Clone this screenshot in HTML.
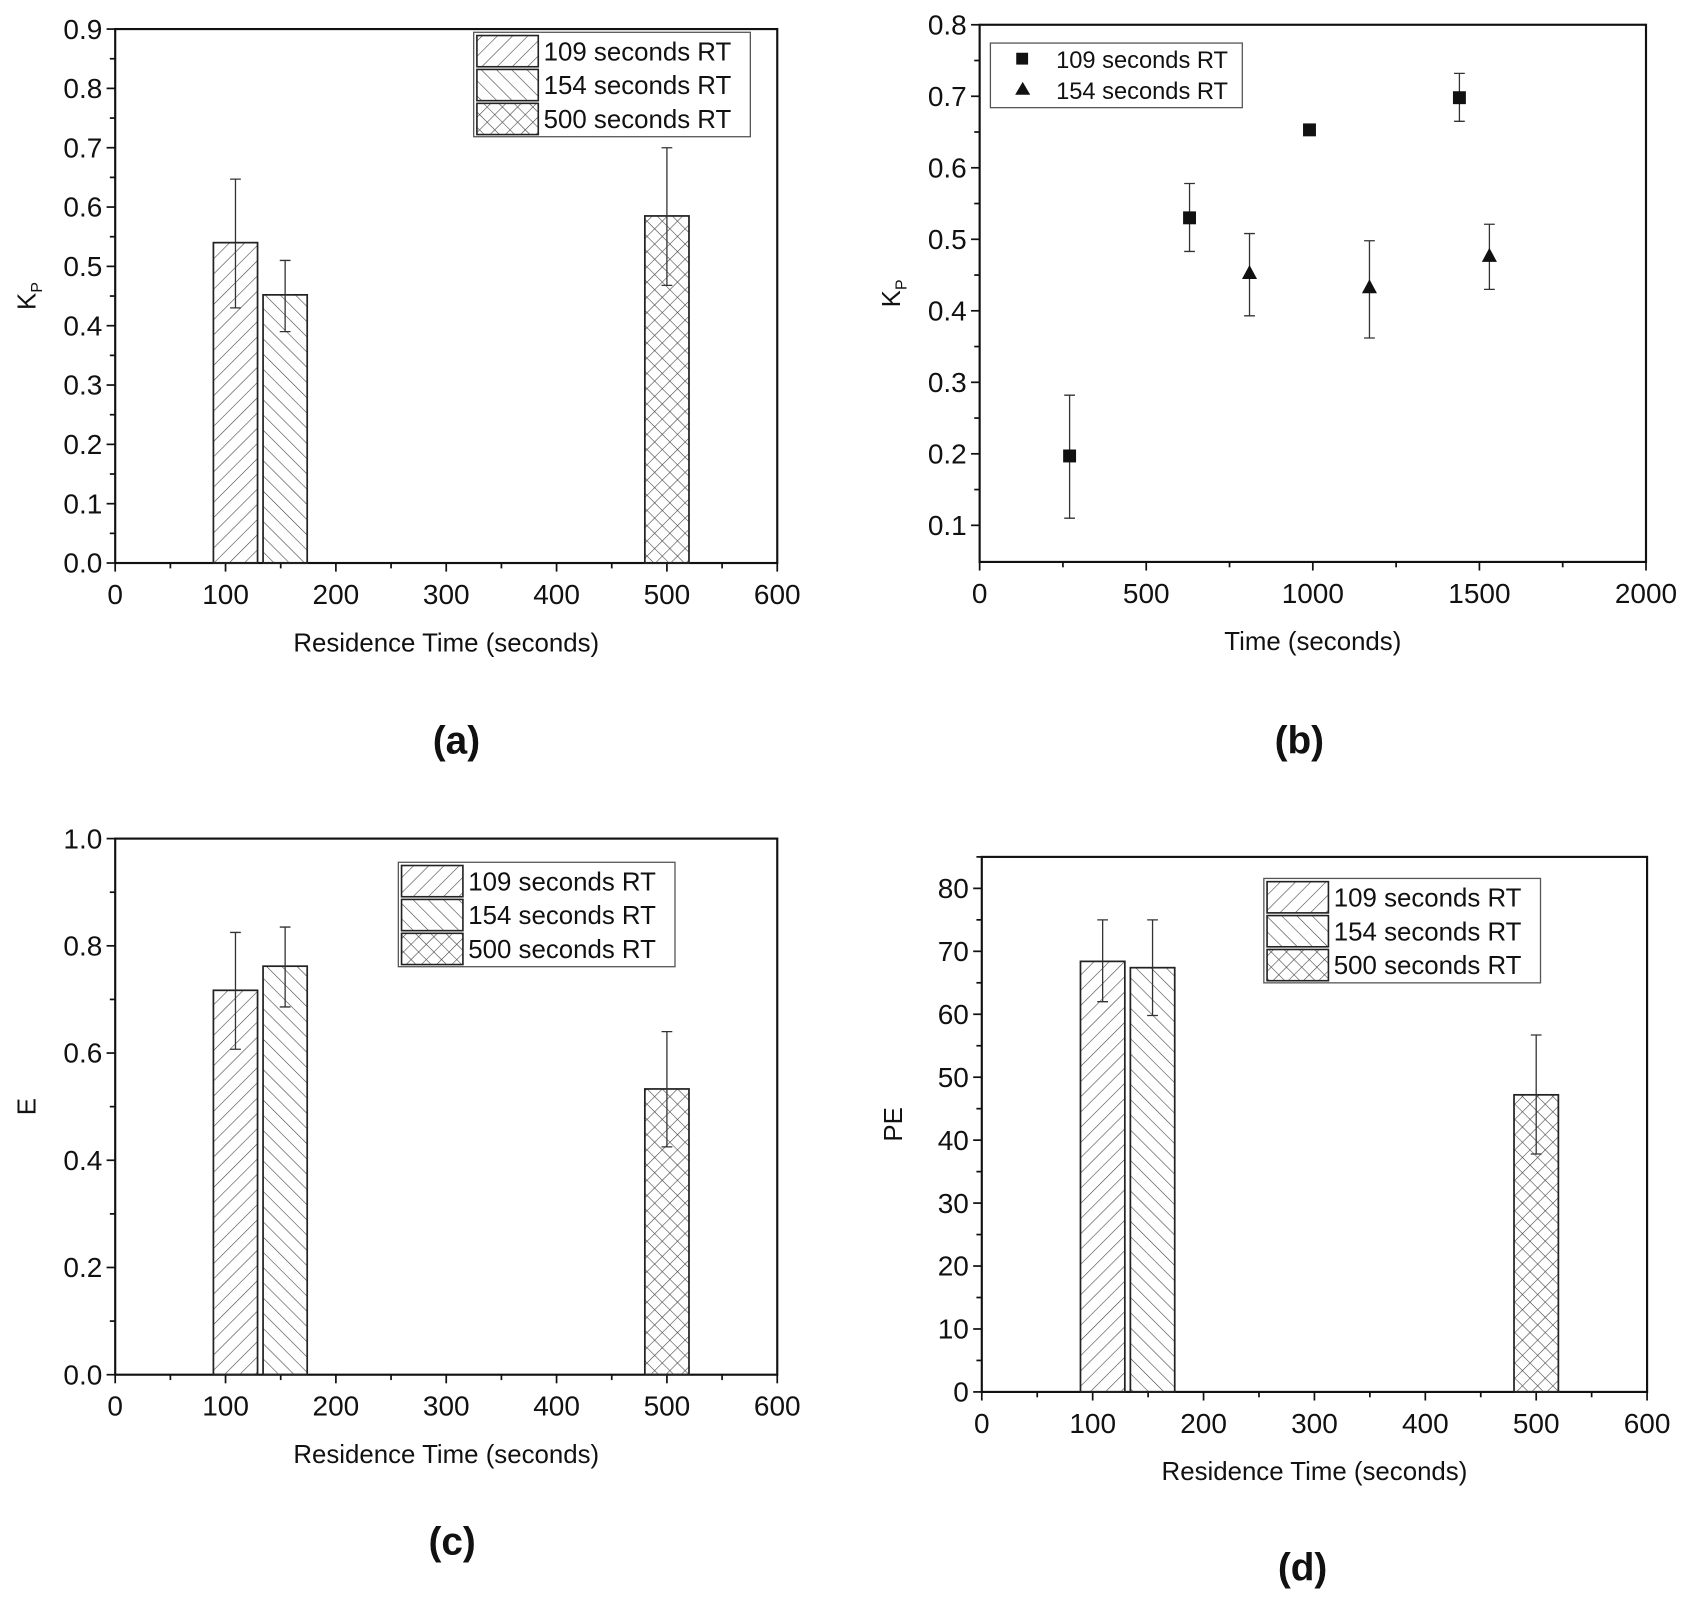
<!DOCTYPE html>
<html><head><meta charset="utf-8">
<style>
html,body{margin:0;padding:0;background:#fff;}
svg{display:block;}
text{font-family:"Liberation Sans",Arial,sans-serif;fill:#111;}
</style></head>
<body>
<svg id="fig" width="1688" height="1597" viewBox="0 0 1568 1483.5" xmlns="http://www.w3.org/2000/svg">
<defs>
<pattern id="hf" patternUnits="userSpaceOnUse" width="10" height="10" patternTransform="rotate(45)"><line x1="0" y1="0" x2="0" y2="10" stroke="#444" stroke-width="1.1"/></pattern>
<pattern id="hb" patternUnits="userSpaceOnUse" width="10" height="10" patternTransform="rotate(-45)"><line x1="0" y1="0" x2="0" y2="10" stroke="#444" stroke-width="1.1"/></pattern>
<pattern id="hx" patternUnits="userSpaceOnUse" width="10" height="10" patternTransform="rotate(45)"><line x1="0" y1="0" x2="0" y2="10" stroke="#444" stroke-width="1.1"/><line x1="0" y1="0" x2="10" y2="0" stroke="#444" stroke-width="1.1"/></pattern>
</defs>
</svg>
<script>
// Panel (a) Kp vs residence time
const barCats = [109, 154, 500];
const barLabels = ["109 seconds RT", "154 seconds RT", "500 seconds RT"];
const kpValues = [0.54, 0.452, 0.585];
const kpLow = [0.43, 0.39, 0.468];
const kpHigh = [0.647, 0.51, 0.70];
// Panel (c) E
const eValues = [0.717, 0.762, 0.533];
const eLow = [0.607, 0.686, 0.425];
const eHigh = [0.825, 0.835, 0.640];
// Panel (d) PE
const peValues = [68.4, 67.4, 47.2];
const peLow = [62, 59.8, 37.8];
const peHigh = [75, 75, 56.7];
// Panel (b) scatter
const s109X = [270, 630, 990, 1440];
const s109Y = [0.197, 0.53, 0.653, 0.698];
const s109Lo = [0.11, 0.483, null, 0.665];
const s109Hi = [0.282, 0.578, null, 0.732];
const s154X = [810, 1170, 1530];
const s154Y = [0.452, 0.432, 0.476];
const s154Lo = [0.393, 0.362, 0.43];
const s154Hi = [0.508, 0.498, 0.521];
const ticksA = ["0.0","0.1","0.2","0.3","0.4","0.5","0.6","0.7","0.8","0.9"];
const ticksB = ["0.1","0.2","0.3","0.4","0.5","0.6","0.7","0.8"];
const ticksC = ["0.0","0.2","0.4","0.6","0.8","1.0"];
const ticksD = ["0","10","20","30","40","50","60","70","80"];
const ticksRT = ["0","100","200","300","400","500","600"];
const ticksT = ["0","500","1000","1500","2000"];

const NS = "http://www.w3.org/2000/svg";
const svg = document.getElementById('fig');
function mk(tag, attrs, parent, txt){
  const e = document.createElementNS(NS, tag);
  for (const k in attrs) e.setAttribute(k, attrs[k]);
  if (txt !== undefined) e.textContent = txt;
  (parent || svg).appendChild(e);
  return e;
}
function axes(p){
  const g = mk('g', {});
  
  
  const sx = v => p.x0 + (v - p.xmin) / (p.xmax - p.xmin) * (p.x1 - p.x0);
  const sy = v => p.y1 - (v - p.ymin) / (p.ymax - p.ymin) * (p.y1 - p.y0);
  const box = mk('rect', {x:p.x0, y:p.y0, width:p.x1-p.x0, height:p.y1-p.y0, fill:'none', stroke:'#111', 'stroke-width':2}, g);
  
  
  for (let v = p.xmin; v <= p.xmax + 1e-9; v += p.xminor) {
    const major = Math.abs((v / p.xmajor) - Math.round(v / p.xmajor)) < 1e-6;
    mk('line', {x1:sx(v), x2:sx(v), y1:p.y1, y2:p.y1 + (major ? 8 : 5), stroke:'#111', 'stroke-width':1.6}, g);
  }
  p.xticks.forEach(t => {
    const lab = mk('text', {x:sx(+t), y:p.y1 + 38, 'font-size':26, 'text-anchor':'middle'}, g, t);
    
    
  });
  for (let v = p.yminTick; v <= p.ymax + 1e-9; v += p.yminor) {
    const major = Math.abs(((v - p.yminTick) / p.ymajor) - Math.round((v - p.yminTick) / p.ymajor)) < 1e-6;
    mk('line', {x1:p.x0, x2:p.x0 - (major ? 8 : 5), y1:sy(v), y2:sy(v), stroke:'#111', 'stroke-width':1.6}, g);
  }
  p.yticks.forEach(t => {
    const lab = mk('text', {x:p.x0 - 12, y:sy(+t) + 9, 'font-size':26, 'text-anchor':'end'}, g, t);
    
    
  });
  const xt = mk('text', {x:(p.x0 + p.x1) / 2, y:p.y1 + 82, 'font-size':24, 'text-anchor':'middle'}, g, p.xtitle);
  
  
  const yt = mk('text', {x:0, y:0, 'font-size':24, 'text-anchor':'middle', transform:`translate(${p.x0 - 74},${(p.y0 + p.y1) / 2}) rotate(-90)`}, g);
  
  
  if (p.ytitle === 'Kp') { yt.textContent = 'K'; mk('tspan', {'font-size':15, dy:6}, yt, 'P'); }
  else yt.textContent = p.ytitle;
  const cap = mk('text', {x:p.capx, y:p.capy, 'font-size':36, 'font-weight':'bold', 'text-anchor':'middle'}, g, p.caption);
  
  
  return {g, sx, sy};
}
const fills = ['url(#hf)', 'url(#hb)', 'url(#hx)'];
function barPanel(p, vals, lo, hi, leg){
  const {g, sx, sy} = axes(p);
  barCats.forEach((c, i) => {
    const x = sx(c) - (sx(20) - sx(0));
    const w = sx(40) - sx(0);
    const r = mk('rect', {x:x, y:sy(vals[i]), width:w, height:sy(p.ymin) - sy(vals[i]), fill:fills[i], stroke:'#222', 'stroke-width':1.6}, g);
    
    
    const ex = sx(c);
    const eb = mk('path', {d:`M${ex},${sy(lo[i])}V${sy(hi[i])}M${ex-5},${sy(lo[i])}H${ex+5}M${ex-5},${sy(hi[i])}H${ex+5}`, stroke:'#333', 'stroke-width':1.2, fill:'none'}, g);
    
    
  });
  const lg = mk('g', {}, g);
  
  
  mk('rect', {x:leg.x, y:leg.y, width:257, height:97, fill:'#fff', stroke:'#555', 'stroke-width':1.2}, lg);
  barLabels.forEach((l, i) => {
    const e = mk('g', {}, lg);
    
    
    mk('rect', {x:leg.x + 3, y:leg.y + 3 + i * 31.5, width:57, height:29, fill:fills[i], stroke:'#222', 'stroke-width':1.5}, e);
    mk('text', {x:leg.x + 65, y:leg.y + 26 + i * 31.5, 'font-size':24}, e, l);
  });
}
barPanel({name:'panel-a', x0:107, x1:722, y0:27, y1:523, xmin:0, xmax:600, ymin:0, ymax:0.9, yminTick:0, xmajor:100, xminor:50, ymajor:0.1, yminor:0.05,
  xticks:ticksRT, yticks:ticksA, xtitle:'Residence Time (seconds)', ytitle:'Kp', caption:'(a)', capx:424, capy:700}, kpValues, kpLow, kpHigh, {x:440, y:30});
barPanel({name:'panel-c', x0:107, x1:722, y0:779, y1:1277, xmin:0, xmax:600, ymin:0, ymax:1.0, yminTick:0, xmajor:100, xminor:50, ymajor:0.2, yminor:0.1,
  xticks:ticksRT, yticks:ticksC, xtitle:'Residence Time (seconds)', ytitle:'E', caption:'(c)', capx:420, capy:1444}, eValues, eLow, eHigh, {x:370, y:801});
barPanel({name:'panel-d', x0:912, x1:1530, y0:796, y1:1293, xmin:0, xmax:600, ymin:0, ymax:85, yminTick:0, xmajor:100, xminor:50, ymajor:10, yminor:5,
  xticks:ticksRT, yticks:ticksD, xtitle:'Residence Time (seconds)', ytitle:'PE', caption:'(d)', capx:1210, capy:1468}, peValues, peLow, peHigh, {x:1174, y:816});

// Panel b
(function(){
  const p = {name:'panel-b', x0:910, x1:1529, y0:23, y1:522, xmin:0, xmax:2000, ymin:0.0488, ymax:0.8, yminTick:0.1, xmajor:500, xminor:250, ymajor:0.1, yminor:0.05,
    xticks:ticksT, yticks:ticksB, xtitle:'Time (seconds)', ytitle:'Kp', caption:'(b)', capx:1207, capy:700};
  const {g, sx, sy} = axes(p);
  function err(x, lo, hi){
    if (lo === null) return;
    const e = mk('path', {d:`M${sx(x)},${sy(lo)}V${sy(hi)}M${sx(x)-5},${sy(lo)}H${sx(x)+5}M${sx(x)-5},${sy(hi)}H${sx(x)+5}`, stroke:'#333', 'stroke-width':1.2, fill:'none'}, g);
    
    
  }
  s109X.forEach((x, i) => {
    err(x, s109Lo[i], s109Hi[i]);
    const m = mk('rect', {x:sx(x) - 6, y:sy(s109Y[i]) - 6, width:12, height:12, fill:'#111'}, g);
    
    
  });
  s154X.forEach((x, i) => {
    err(x, s154Lo[i], s154Hi[i]);
    const cx = sx(x), cy = sy(s154Y[i]);
    const m = mk('path', {d:`M${cx},${cy-8}L${cx+7},${cy+5}L${cx-7},${cy+5}Z`, fill:'#111'}, g);
    
    
  });
  const lg = mk('g', {}, g);
  
  
  mk('rect', {x:920, y:40, width:234, height:60, fill:'#fff', stroke:'#555', 'stroke-width':1.2}, lg);
  const e1 = mk('g', {}, lg);
  
  
  mk('rect', {x:944, y:49, width:11, height:11, fill:'#111'}, e1);
  mk('text', {x:981, y:63, 'font-size':22}, e1, '109 seconds RT');
  const e2 = mk('g', {}, lg);
  
  
  mk('path', {d:'M950,76L957,88L943,88Z', fill:'#111'}, e2);
  mk('text', {x:981, y:92, 'font-size':22}, e2, '154 seconds RT');
})();
</script>
</body></html>
